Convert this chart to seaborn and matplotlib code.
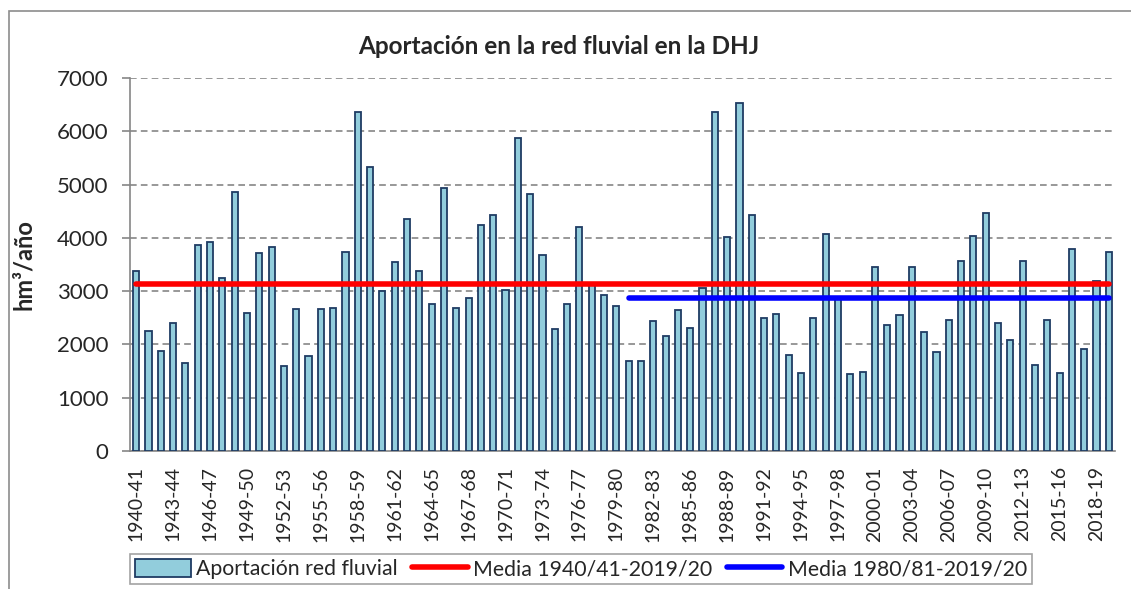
import numpy as np
import pandas as pd
import seaborn as sns
import matplotlib.pyplot as plt
from matplotlib.patches import Rectangle, Patch
from matplotlib.lines import Line2D

sns.set_style("white")
plt.rcParams['font.family'] = ['Lato', 'DejaVu Sans']

# años hidrológicos 1940-41 ... 2019-20
inicio = list(range(1940, 2020))
anios = [f"{a}-{str(a + 1)[-2:]}" for a in inicio]

aportacion = [
    3377, 2245, 1882, 2395, 1651, 3859, 3915, 3246, 4866, 2589,
    3715, 3821, 1601, 2664, 1776, 2664, 2677, 3734, 6360, 5328,
    3008, 3540, 4346, 3371, 2752, 4941, 2689, 2871, 4246, 4434,
    3014, 5879, 4816, 3677, 2295, 2752, 4196, 3130, 2921, 2714,
    1682, 1690, 2445, 2164, 2652, 2308, 3058, 6360, 4015, 6523,
    4421, 2489, 2570, 1801, 1457, 2495, 4065, 2870, 1451, 1476,
    3452, 2364, 2558, 3446, 2226, 1864, 2452, 3558, 4034, 4465,
    2408, 2083, 3571, 1613, 2452, 1470, 3796, 1907, 3189, 3740,
]

media_total = 3133   # Media 1940/41-2019/20
media_80 = 2864      # Media 1980/81-2019/20
inicio_media_80 = "1980-81"

df = pd.DataFrame({"anio": anios, "aportacion": aportacion})

fig = plt.figure(figsize=(11.31, 5.89), dpi=100)
W, H = 1131, 589
ax = fig.add_axes([130 / W, 1 - 451 / H, (1115 - 130) / W, (451 - 78) / H])

# marco exterior del gráfico
fig.patches.append(Rectangle((9 / W, -0.1), 1.2, 1 - 11 / H + 0.1, transform=fig.transFigure,
                             fill=False, edgecolor="#8c8c8c", linewidth=1.2))

sns.barplot(data=df, x="anio", y="aportacion", color="#92CDDC", saturation=1,
            edgecolor="#1F3B63", linewidth=1.3, width=0.5, ax=ax, zorder=3)

n = len(anios)
i80 = anios.index(inicio_media_80)
ax.plot([0, n - 1], [media_total] * 2, color="#FF0000", linewidth=4, zorder=4,
        solid_capstyle="round")
ax.plot([i80, n - 1], [media_80] * 2, color="#0000FF", linewidth=4, zorder=4,
        solid_capstyle="round")

ax.set_xlim(-0.5, n - 0.5)
ax.set_ylim(0, 7000)
ax.set_yticks(range(0, 7001, 1000))
ax.yaxis.grid(True, linestyle=(0, (4, 2.5)), color="#868686", linewidth=1.2, zorder=0)
ax.xaxis.grid(False)
ax.set_axisbelow(True)

for s in ["top", "right"]:
    ax.spines[s].set_visible(False)
for s in ["left", "bottom"]:
    ax.spines[s].set_color("#868686")
    ax.spines[s].set_linewidth(1.2)

ax.set_xticks(range(0, n, 3))
ax.set_xticklabels([anios[i] for i in range(0, n, 3)], rotation=90, fontsize=14)
ax.set_xticks(np.arange(-0.5, n, 1), minor=True)
ax.tick_params(axis="x", which="major", length=0, pad=11)
ax.tick_params(axis="x", which="minor", length=6, width=1.2, color="#868686", direction="out")
ax.tick_params(axis="y", length=5.5, width=1.2, color="#868686", labelsize=16, pad=10, left=True)

ax.set_xlabel("")
ax.set_ylabel("hm³/año", fontsize=17, fontweight="bold", labelpad=8)
ax.yaxis.set_label_coords(-95 / 985, 0.5)

fig.text(559 / W, 1 - 47 / H, "Aportación en la red fluvial en la DHJ",
         ha="center", va="center", fontsize=17.5, fontweight="bold")

handles = [
    Patch(facecolor="#92CDDC", edgecolor="#1F3B63", linewidth=1.3),
    Line2D([], [], color="#FF0000", linewidth=4),
    Line2D([], [], color="#0000FF", linewidth=4),
]
labels = ["Aportación red fluvial", "Media 1940/41-2019/20", "Media 1980/81-2019/20"]
leg = fig.legend(handles, labels, ncol=3, loc="center left",
                 bbox_to_anchor=(130 / W, 1 - 569 / H), fontsize=15.3, frameon=True,
                 fancybox=False, edgecolor="#8c8c8c", handlelength=2.6, handleheight=0.9,
                 columnspacing=0.7, handletextpad=0.25, borderpad=0.25, borderaxespad=0)
leg.get_frame().set_linewidth(1.2)

fig.savefig("out.png", dpi=100)
